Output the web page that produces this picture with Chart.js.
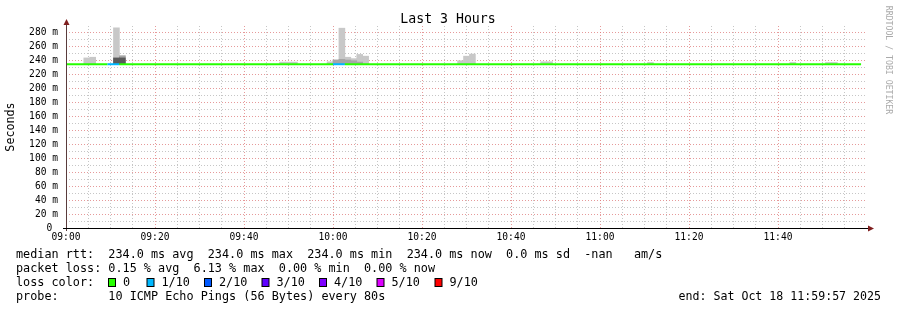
<!DOCTYPE html>
<html>
<head>
<meta charset="utf-8">
<title>Last 3 Hours</title>
<script src="https://cdn.jsdelivr.net/npm/chart.js@4.4.1/dist/chart.umd.min.js"></script>
<style>
  html, body { margin: 0; padding: 0; background: #fff; }
  #wrap { width: 897px; height: 310px; }
</style>
</head>
<body>
<div id="wrap"><canvas id="smoke" width="897" height="310"></canvas></div>
<script>
// one step = 80s, x values are seconds after 09:00
var stepSeconds = 80;
var spanSeconds = 10800;
var hourLabels = ['09:00', '09:20', '09:40', '10:00', '10:20', '10:40', '11:00', '11:20', '11:40'];

// median rtt per step (ms)
var median = [
  234.0, 234.0, 234.0, 234.0, 234.0, 234.0, 234.0, 234.0, 234.0, 234.0, 234.0, 234.0, 234.0, 234.0, 234.0, 234.0, 234.0, 234.0, 234.0, 234.0,
  234.0, 234.0, 234.0, 234.0, 234.0, 234.0, 234.0, 234.0, 234.0, 234.0, 234.0, 234.0, 234.0, 234.0, 234.0, 234.0, 234.0, 234.0, 234.0, 234.0,
  234.0, 234.0, 234.0, 234.0, 234.0, 234.0, 234.0, 234.0, 234.0, 234.0, 234.0, 234.0, 234.0, 234.0, 234.0, 234.0, 234.0, 234.0, 234.0, 234.0,
  234.0, 234.0, 234.0, 234.0, 234.0, 234.0, 234.0, 234.0, 234.0, 234.0, 234.0, 234.0, 234.0, 234.0, 234.0, 234.0, 234.0, 234.0, 234.0, 234.0,
  234.0, 234.0, 234.0, 234.0, 234.0, 234.0, 234.0, 234.0, 234.0, 234.0, 234.0, 234.0, 234.0, 234.0, 234.0, 234.0, 234.0, 234.0, 234.0, 234.0,
  234.0, 234.0, 234.0, 234.0, 234.0, 234.0, 234.0, 234.0, 234.0, 234.0, 234.0, 234.0, 234.0, 234.0, 234.0, 234.0, 234.0, 234.0, 234.0, 234.0,
  234.0, 234.0, 234.0, 234.0, 234.0, 234.0, 234.0, 234.0, 234.0, 234.0, 234.0, 234.0, 234.0, 234.0
];

// lost pings out of 10, per step
var loss = [
  0, 0, 0, 0, 0, 0, 0, 1, 1, 0, 0, 0, 0, 0, 0, 0, 0, 0, 0, 0,
  0, 0, 0, 0, 0, 0, 0, 0, 0, 0, 0, 0, 0, 0, 0, 0, 0, 0, 0, 0,
  0, 0, 0, 0, 0, 1, 1, 0, 0, 0, 0, 0, 0, 0, 0, 0, 0, 0, 0, 0,
  0, 0, 0, 0, 0, 0, 0, 0, 0, 0, 0, 0, 0, 0, 0, 0, 0, 0, 0, 0,
  0, 0, 0, 0, 0, 0, 0, 0, 0, 0, 0, 0, 0, 0, 0, 0, 0, 0, 0, 0,
  0, 0, 0, 0, 0, 0, 0, 0, 0, 0, 0, 0, 0, 0, 0, 0, 0, 0, 0, 0,
  0, 0, 0, 0, 0, 0, 0, 0, 0, 0, 0, 0, 0, 0
];

// smoke: steps that have spread above the median (ms)
var smokeSteps = [3, 4, 8, 9, 36, 37, 38, 44, 45, 46, 47, 48, 49, 50, 66, 67, 68, 80, 81, 98, 122, 128, 129];
var smokeMin   = [234, 234, 234, 234, 234, 234, 234, 234, 234, 234, 234, 234, 234, 234, 234, 234, 234, 234, 234, 234, 234, 234, 234];
var smokeMax   = [243, 244, 286, 246, 237, 237, 237, 237.5, 240, 285.5, 244, 242, 248, 245.5, 239, 245.5, 248.5, 237.5, 237.5, 236.5, 236.5, 236.5, 236.5];
var smokeMid   = [null, null, null, 246, null, null, null, null, 240, 241, 240, 239, 237, null, null, null, null, null, null, null, null, null, null];
var smokeDark  = [null, null, 243, 243, null, null, null, null, null, null, null, null, null, null, null, null, null, null, null, null, null, null, null];

var lossLabels = ['0', '1/10', '2/10', '3/10', '4/10', '5/10', '9/10'];
var lossColors = ['#26ff00', '#00b8ff', '#0059ff', '#5e00ff', '#7e00ff', '#dd00ff', '#ff0000'];
var lossSteps  = [0, 1, 2, 3, 4, 5, 9];

var statsLines = [
  'median rtt:  234.0 ms avg  234.0 ms max  234.0 ms min  234.0 ms now  0.0 ms sd  -nan   am/s',
  'packet loss: 0.15 % avg  6.13 % max  0.00 % min  0.00 % now'
];
var probeLine = 'probe:       10 ICMP Echo Pings (56 Bytes) every 80s';
var endLine = 'end: Sat Oct 18 11:59:57 2025';

var mono = '"DejaVu Sans Mono", "Liberation Mono", monospace';

function lossColor(n) {
  var c = lossColors[0];
  for (var i = 0; i < lossSteps.length; i++) {
    if (n >= lossSteps[i]) c = lossColors[i];
  }
  return c;
}

function smokeData(tops) {
  var out = [];
  for (var i = 0; i < smokeSteps.length; i++) {
    if (tops[i] === null) continue;
    out.push({ x: smokeSteps[i] * stepSeconds + stepSeconds / 2, y: [smokeMin[i], tops[i]] });
  }
  return out;
}

var medianPoints = [];
for (var i = 0; i < median.length; i++) {
  medianPoints.push({ x: i * stepSeconds, y: median[i] });
}
medianPoints.push({ x: median.length * stepSeconds, y: median[median.length - 1] });

var barDefaults = { grouped: false, barPercentage: 1, categoryPercentage: 1, borderWidth: 0 };

var datasets = [
  {
    type: 'line',
    label: 'median',
    data: medianPoints,
    borderWidth: 2,
    pointRadius: 0,
    stepped: 'after',
    borderColor: lossColors[0],
    segment: { borderColor: function(ctx) { return lossColor(loss[ctx.p0DataIndex]); } }
  },
  Object.assign({ label: 'dark', data: smokeData(smokeDark), backgroundColor: '#5a5a5a' }, barDefaults),
  Object.assign({ label: 'mid', data: smokeData(smokeMid), backgroundColor: '#a6a6a6' }, barDefaults),
  Object.assign({ label: 'max', data: smokeData(smokeMax), backgroundColor: '#c8c8c8' }, barDefaults)
];

var majorGrid = 'rgba(222, 120, 120, 0.75)';
var minorGrid = 'rgba(160, 160, 160, 0.6)';

// rrdtool style frame, texts and legend
var rrdDecor = {
  id: 'rrdDecor',
  afterDraw: function(chart) {
    var ctx = chart.ctx;
    var a = chart.chartArea;
    ctx.save();

    // axes
    ctx.lineWidth = 1;
    ctx.strokeStyle = '#5a3c3c';
    ctx.beginPath();
    ctx.moveTo(a.left + 0.5, a.top - 4);
    ctx.lineTo(a.left + 0.5, a.bottom + 3);
    ctx.stroke();
    ctx.strokeStyle = '#000';
    ctx.beginPath();
    ctx.moveTo(a.left - 3, a.bottom + 0.5);
    ctx.lineTo(a.right + 2, a.bottom + 0.5);
    ctx.stroke();
    ctx.fillStyle = '#7f1f1f';
    ctx.beginPath();
    ctx.moveTo(a.left - 2.5, a.top - 1);
    ctx.lineTo(a.left + 3.5, a.top - 1);
    ctx.lineTo(a.left + 0.5, a.top - 7);
    ctx.closePath();
    ctx.fill();
    ctx.beginPath();
    ctx.moveTo(a.right + 1, a.bottom - 2.5);
    ctx.lineTo(a.right + 1, a.bottom + 3.5);
    ctx.lineTo(a.right + 7, a.bottom + 0.5);
    ctx.closePath();
    ctx.fill();

    // title
    ctx.fillStyle = '#000';
    ctx.font = '13.2px ' + mono;
    ctx.textAlign = 'center';
    ctx.textBaseline = 'middle';
    ctx.fillText('Last 3 Hours', 448, 19.5);

    // vertical label
    ctx.font = '11.7px ' + mono;
    ctx.save();
    ctx.translate(11, 127);
    ctx.rotate(-Math.PI / 2);
    ctx.fillText('Seconds', 0, 0);
    ctx.restore();

    // watermark
    ctx.save();
    ctx.fillStyle = '#aaaaaa';
    ctx.font = '8.2px ' + mono;
    ctx.translate(888, 60);
    ctx.rotate(Math.PI / 2);
    ctx.fillText('RRDTOOL / TOBI OETIKER', 0, 0);
    ctx.restore();

    // legend
    ctx.font = '11.8px ' + mono;
    ctx.textAlign = 'left';
    ctx.fillStyle = '#000';
    ctx.fillText(statsLines[0], 16, 254.5);
    ctx.fillText(statsLines[1], 16, 268.5);
    ctx.fillText('loss color:', 16, 282.5);
    var boxX = [108, 146.5, 204, 261.5, 319, 376.5, 434.5];
    for (var k = 0; k < lossLabels.length; k++) {
      ctx.fillStyle = lossColors[k];
      ctx.fillRect(boxX[k] + 0.5, 278.5, 7, 8);
      ctx.strokeStyle = '#000';
      ctx.strokeRect(boxX[k] + 0.5, 278.5, 7, 8);
      ctx.fillStyle = '#000';
      ctx.fillText(lossLabels[k], boxX[k] + 15, 282.5);
    }
    ctx.fillText(probeLine, 16, 296.5);
    ctx.font = '11.6px ' + mono;
    ctx.textAlign = 'right';
    ctx.fillText(endLine, 881, 296.5);
    ctx.restore();
  }
};

var options = {
  responsive: false,
  animation: false,
  events: [],
  layout: { padding: { left: 0, right: 30, top: 26, bottom: 62 } },
  plugins: { legend: { display: false }, title: { display: false }, tooltip: { enabled: false } },
  scales: {
    x: {
      type: 'linear',
      min: 0,
      max: spanSeconds,
      offset: false,
      afterFit: function(scale) { scale.height = 20; },
      afterBuildTicks: function(scale) {
        scale.ticks = scale.ticks.filter(function(t) { return t.value < spanSeconds; });
      },
      grid: {
        offset: false,
        drawTicks: false,
        color: function(ctx) { return ctx.tick && ctx.tick.value % 1200 === 0 ? majorGrid : minorGrid; }
      },
      border: { display: false, dash: [1, 2] },
      ticks: {
        stepSize: 300,
        autoSkip: false,
        maxRotation: 0,
        padding: 4,
        color: '#000',
        font: { family: mono, size: 9.6 },
        callback: function(v) { return v % 1200 === 0 ? (hourLabels[v / 1200] || '') : ''; }
      }
    },
    y: {
      min: 0,
      max: 288.6,
      afterFit: function(scale) { scale.width = 66; },
      grid: {
        drawTicks: false,
        color: function(ctx) { return ctx.tick && ctx.tick.value % 20 === 0 ? majorGrid : minorGrid; }
      },
      border: { display: false, dash: [1, 2] },
      ticks: {
        stepSize: 10,
        includeBounds: false,
        autoSkip: false,
        padding: 8,
        color: '#000',
        font: { family: mono, size: 9.6 },
        callback: function(v) {
          if (v % 20 !== 0) return '';
          return v === 0 ? '0 ' : v + ' m';
        }
      }
    }
  }
};

var chartSmoke = new Chart(document.getElementById('smoke'), {
  type: 'bar',
  data: { datasets: datasets },
  options: options,
  plugins: [rrdDecor]
});
</script>
</body>
</html>
